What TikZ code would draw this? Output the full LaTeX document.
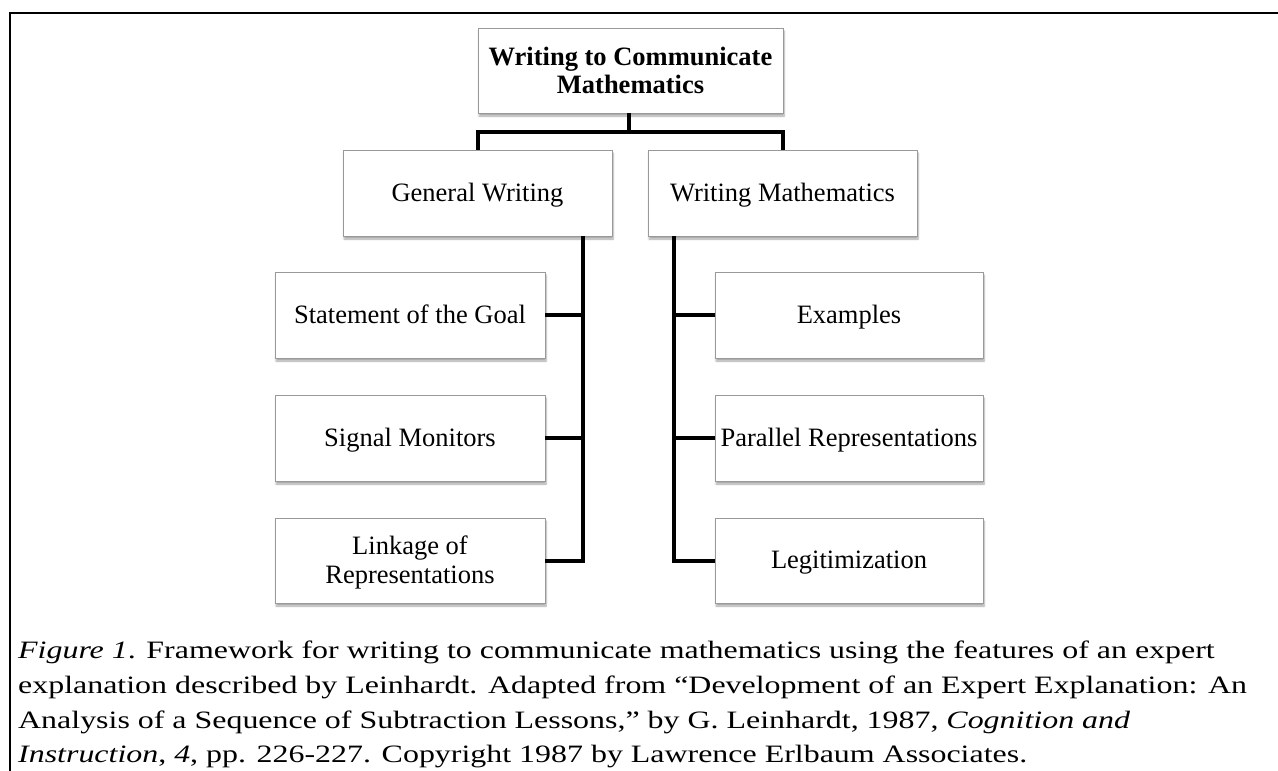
\documentclass[tikz,border=0pt]{standalone}
\usepackage{fontspec}
\setmainfont{Liberation Serif}
\newfontfamily\capfont{Liberation Serif}[FakeStretch=1.277, Ligatures=TeX]
\usetikzlibrary{shadows.blur}
\newcommand\bstrut{\rule[-5pt]{0pt}{27pt}}
\begin{document}
\begin{tikzpicture}[x=1pt,y=-1pt,
  box/.style={draw=black!40, line width=0.9pt, fill=white, inner sep=0pt,
    align=center, font=\fontsize{26.5}{27.5}\selectfont,
    blur shadow={shadow xshift=1pt, shadow yshift=-3pt, shadow blur steps=6, shadow opacity=35}},
  conn/.style={line width=4pt, black},
  frameline/.style={line width=2.5pt, black},
  captext/.style={anchor=base west, inner sep=0pt, font=\capfont\fontsize{25}{28}\selectfont}]
\useasboundingbox (0,0) rectangle (1278,771);
\draw[frameline] (10,771) -- (10,13) -- (1278,13);

\node[box, minimum width=305pt, minimum height=85pt] (t) at (630.5,70.5) {\textbf{Writing to Communicate}\\\textbf{Mathematics}};
\node[box, minimum width=269pt, minimum height=86pt] (gw) at (477.5,193) {\bstrut General Writing};
\node[box, minimum width=269pt, minimum height=86pt] (wm) at (782.5,193) {\bstrut Writing Mathematics};

\node[box, minimum width=270pt, minimum height=86pt] (l1) at (410,315) {\bstrut Statement of the Goal};
\node[box, minimum width=270pt, minimum height=86pt] (l2) at (410,438) {\bstrut Signal Monitors};
\node[box, minimum width=270pt, minimum height=85pt] (l3) at (410,560.5) {\bstrut Linkage of\\\bstrut Representations};

\node[box, minimum width=268pt, minimum height=86pt] (r1) at (849,315) {\bstrut Examples};
\node[box, minimum width=268pt, minimum height=86pt] (r2) at (849,438) {\bstrut Parallel Representations};
\node[box, minimum width=268pt, minimum height=85pt] (r3) at (849,560.5) {\bstrut Legitimization};

\coordinate (bar) at (629,132);
\draw[conn] (t.south -| bar) -- (bar);
\draw[conn] (gw.north) |- (bar) -| (wm.north);

\coordinate (lv) at ([xshift=-29pt]gw.south east);
\draw[conn] (lv) |- (l3.east);
\draw[conn] (l1.east) -- (l1.east -| lv);
\draw[conn] (l2.east) -- (l2.east -| lv);

\coordinate (rv) at ([xshift=26pt]wm.south west);
\draw[conn] (rv) |- (r3.west);
\draw[conn] (r1.west) -- (r1.west -| rv);
\draw[conn] (r2.west) -- (r2.west -| rv);

\node[captext] (c1) at (18,658) {\textit{Figure 1}. Framework for writing to communicate mathematics using the features of an expert};
\node[captext] (c2) at (18,693) {explanation described by Leinhardt. Adapted from “Development of an Expert Explanation: An};
\node[captext] (c3) at (18,728) {Analysis of a Sequence of Subtraction Lessons,” by G. Leinhardt, 1987, \textit{Cognition and}};
\node[captext] (c4) at (18,762) {\textit{Instruction}, \textit{4}, pp. 226-227. Copyright 1987 by Lawrence Erlbaum Associates.};
\end{tikzpicture}
\end{document}
